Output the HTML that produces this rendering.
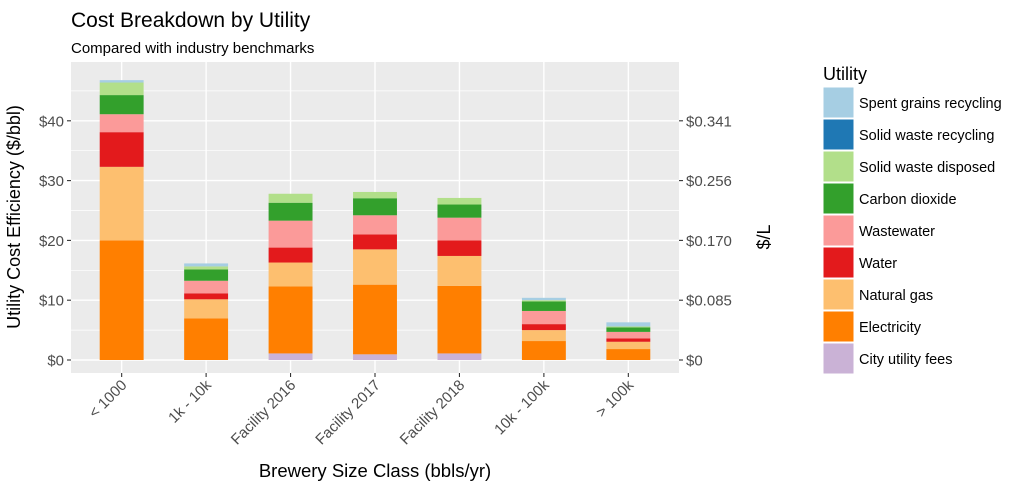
<!DOCTYPE html>
<html><head><meta charset="utf-8"><style>
body{margin:0;background:#fff;}
svg{font-family:"Liberation Sans",Arial,sans-serif;display:block}
</style></head><body>
<svg width="1021" height="488" viewBox="0 0 1021 488">
<text x="71" y="27" font-size="21" fill="#000">Cost Breakdown by Utility</text>
<text x="71" y="53" font-size="15" fill="#000">Compared with industry benchmarks</text>
<rect x="71" y="62" width="608" height="311" fill="#ebebeb"/>
<g id="grid"></g>
<g id="bars"></g>
<g id="axes"></g>
<text transform="translate(20,217) rotate(-90)" text-anchor="middle" font-size="18">Utility Cost Efficiency ($/bbl)</text>
<text transform="translate(770,237) rotate(-90)" text-anchor="middle" font-size="18">$/L</text>
<text x="375" y="477" text-anchor="middle" font-size="18.5">Brewery Size Class (bbls/yr)</text>
<g id="legend"></g>
</svg>
<script>
const categories=["< 1000","1k - 10k","Facility 2016","Facility 2017","Facility 2018","10k - 100k","> 100k"];
const seriesNames=["City utility fees","Electricity","Natural gas","Water","Wastewater","Carbon dioxide","Solid waste disposed","Solid waste recycling","Spent grains recycling"];
const seriesColors=["#cab2d6","#ff7f00","#fdbf6f","#e31a1c","#fb9a99","#33a02c","#b2df8a","#1f78b4","#a6cee3"];
const cityFees=[0,0,1.1,0.95,1.1,0,0];
const electricity=[20,6.95,11.2,11.65,11.3,3.17,1.83];
const naturalGas=[12.3,3.2,4.0,5.9,5.0,1.83,1.22];
const water=[5.8,1.0,2.5,2.5,2.6,1.0,0.55];
const wastewater=[3.0,2.1,4.5,3.2,3.8,2.2,1.1];
const carbonDioxide=[3.2,1.9,3.0,2.85,2.2,1.6,0.75];
const solidWasteDisposed=[2.1,0.5,1.5,1.05,1.1,0.2,0.15];
const solidWasteRecycling=[0,0,0,0,0,0,0];
const spentGrains=[0.4,0.5,0,0,0,0.4,0.7];
const yTicks=[0,10,20,30,40];
const yTickLabels=["$0","$10","$20","$30","$40"];
const y2TickLabels=["$0","$0.085","$0.170","$0.256","$0.341"];
const series=[cityFees,electricity,naturalGas,water,wastewater,carbonDioxide,solidWasteDisposed,solidWasteRecycling,spentGrains];

const NS="http://www.w3.org/2000/svg";
const L=71,R=679,T=62,B=373;
const band=(R-L)/(categories.length+0.2);
function xs(i){return L+band*(0.6+i);}
function ys(v){return 360-v*5.98;}
function mk(tag,attrs,parent){const e=document.createElementNS(NS,tag);for(const k in attrs)e.setAttribute(k,attrs[k]);parent.appendChild(e);return e;}
const grid=document.getElementById('grid'),bars=document.getElementById('bars'),axes=document.getElementById('axes'),legend=document.getElementById('legend');
for(let k=0;k<yTicks.length;k++){
  const v=yTicks[k]+5;const y=ys(v);
  if(y>T){const l=mk('line',{x1:L,x2:R,y1:y,y2:y,stroke:'#fff','stroke-width':0.7},grid);
  
  }
}
yTicks.forEach((v,k)=>{
  const y=ys(v);
  const g=mk('line',{x1:L,x2:R,y1:y,y2:y,stroke:'#fff','stroke-width':1.4},grid);
  
  
  mk('line',{x1:L-4,x2:L,y1:y,y2:y,stroke:'#333','stroke-width':1.1},axes);
  const t=mk('text',{x:L-7,y:y+5.5,'text-anchor':'end','font-size':15,fill:'#4d4d4d'},axes);
  t.textContent=yTickLabels[k];
  
  
  mk('line',{x1:R,x2:R+4,y1:y,y2:y,stroke:'#333','stroke-width':1.1},axes);
  const t2=mk('text',{x:R+7,y:y+5.5,'font-size':15,fill:'#4d4d4d'},axes);
  t2.textContent=y2TickLabels[k];
  
  
});
categories.forEach((c,i)=>{
  const x=xs(i);
  const g=mk('line',{x1:x,x2:x,y1:T,y2:B,stroke:'#fff','stroke-width':1.4},grid);
  
  
  mk('line',{x1:x,x2:x,y1:B,y2:B+4,stroke:'#333','stroke-width':1.1},axes);
  const t=mk('text',{transform:`translate(${x+6},${B+13}) rotate(-45)`,'text-anchor':'end','font-size':15,fill:'#4d4d4d'},axes);
  t.textContent=c;
  
  
  let cum=0;const w=band*0.52;
  series.forEach((s,j)=>{
    const v=s[i];if(v<=0){return;}
    const y0=ys(cum),y1=ys(cum+v);cum+=v;
    const r=mk('rect',{x:x-w/2,y:y1,width:w,height:y0-y1,fill:seriesColors[j]},bars);
    
    
  });
});
const lt=mk('text',{x:823,y:80,'font-size':18},legend);
lt.textContent='Utility';


for(let j=seriesNames.length-1,k=0;j>=0;j--,k++){
  const y=87+k*32;
  const r=mk('rect',{x:823,y:y,width:31,height:31,fill:seriesColors[j],stroke:'#fff','stroke-width':1},legend);
  
  
  const t=mk('text',{x:859,y:y+21,'font-size':14.5},legend);
  t.textContent=seriesNames[j];
  
  
}
</script>
</body></html>
